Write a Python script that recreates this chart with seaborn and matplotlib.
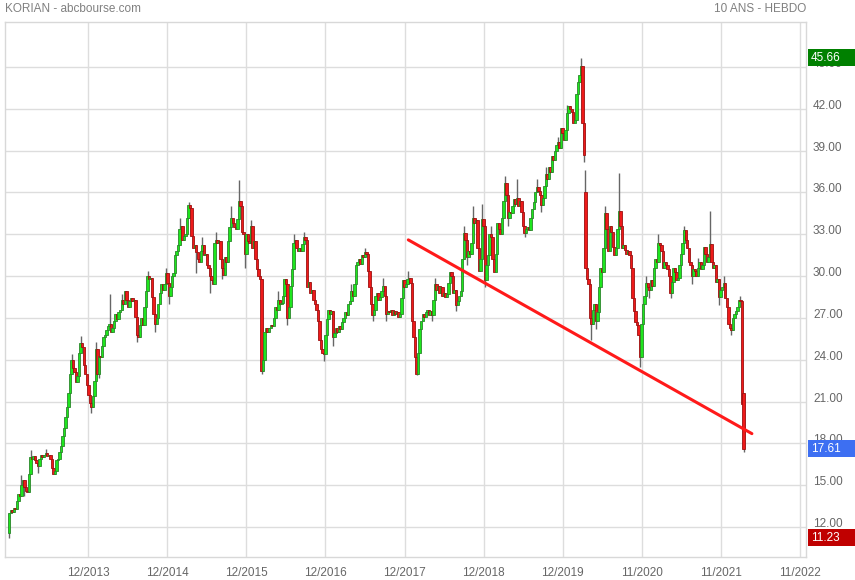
import matplotlib
matplotlib.use("Agg")
import matplotlib.pyplot as plt
import matplotlib.transforms as mtransforms
from matplotlib.patches import Rectangle
import seaborn as sns

# weekly closes (late 2012 -> early 2022)
closes = [
    13.0, 13.2, 13.1, 13.4, 13.3, 13.9, 14.4, 14.2, 15.0, 15.4,
    14.9, 14.6, 14.5, 15.8, 17.0, 16.9, 17.1, 16.8, 16.6, 16.4,
    16.9, 17.2, 17.0, 17.2, 17.3, 17.1, 17.2, 16.9, 16.2, 15.8,
    16.0, 16.8, 16.9, 17.4, 17.8, 18.5, 19.1, 19.9, 20.6, 21.6,
    23.0, 24.0, 23.4, 23.1, 22.4, 22.8, 24.5, 25.2, 24.9, 23.6,
    23.0, 22.2, 21.5, 20.9, 20.6, 21.4, 22.5, 24.8, 23.0, 24.3,
    24.2, 25.0, 25.6, 25.8, 26.1, 26.4, 26.6, 26.0, 26.3, 26.8,
    27.3, 26.9, 27.4, 27.6, 28.3, 28.0, 28.9, 28.3, 27.8, 28.2,
    28.4, 28.2, 28.3, 27.1, 25.8, 25.6, 26.5, 27.0, 26.5, 27.8,
    28.9, 30.0, 29.8, 29.9, 28.5, 27.3, 26.6, 27.0, 28.0, 28.8,
    29.4, 29.0, 29.4, 30.2, 29.5, 28.6, 29.2, 30.0, 30.2, 31.5,
    31.8, 32.2, 33.4, 33.6, 32.6, 32.9, 33.0, 34.2, 35.1, 34.9,
    32.9, 32.0, 32.2, 31.7, 31.2, 31.0, 31.8, 32.2, 31.5, 31.6,
    30.8, 30.6, 30.0, 29.7, 29.4, 32.4, 32.6, 32.4, 32.5, 31.2,
    30.6, 30.1, 31.4, 31.0, 32.5, 33.5, 34.2, 33.8, 33.5, 33.4,
    34.1, 35.4, 35.0, 33.2, 33.0, 31.6, 33.0, 32.5, 32.4, 33.6,
    32.0, 32.5, 31.2, 30.5, 30.0, 29.8, 23.2, 24.0, 26.0, 26.3,
    26.0, 26.3, 26.5, 26.4, 27.0, 27.8, 27.6, 28.3, 28.0, 28.1,
    28.6, 29.8, 29.4, 27.0, 27.8, 29.3, 30.5, 32.4, 32.6, 32.0,
    31.8, 32.0, 31.8, 32.3, 32.8, 32.6, 29.2, 29.6, 28.8, 29.0,
    28.3, 28.0, 27.6, 26.8, 25.4, 24.8, 24.5, 24.4, 25.8, 26.9,
    27.6, 27.3, 27.5, 25.6, 25.9, 26.3, 26.0, 26.4, 26.2, 26.7,
    27.0, 27.4, 27.2, 28.0, 28.2, 28.9, 28.6, 29.4, 30.8, 31.0,
    31.2, 30.9, 31.5, 31.4, 31.7, 31.6, 30.4, 29.2, 28.0, 27.2,
    27.6, 28.6, 28.8, 28.3, 28.5, 28.9, 29.3, 28.6, 27.3, 27.5,
    27.4, 27.6, 27.2, 27.5, 27.3, 27.4, 27.1, 27.3, 28.4, 29.7,
    29.2, 29.4, 29.8, 29.9, 29.5, 26.8, 25.6, 24.2, 23.0, 24.5,
    26.2, 26.8, 27.3, 27.1, 27.4, 27.6, 27.2, 27.5, 27.2, 28.3,
    29.4, 29.0, 29.3, 28.8, 29.2, 28.6, 28.8, 28.5, 28.7, 29.5,
    30.3, 30.0, 28.8, 29.0, 27.9, 28.2, 28.6, 28.9, 31.2, 33.1,
    32.6, 31.4, 31.8, 31.6, 32.4, 34.2, 33.8, 34.0, 32.0, 30.4,
    31.2, 34.1, 33.6, 29.7, 30.8, 31.5, 33.0, 32.8, 31.2, 30.3,
    31.6, 33.8, 33.4, 33.0, 34.2, 35.4, 36.7, 35.8, 34.2, 34.6,
    34.5, 35.0, 35.5, 35.2, 35.6, 35.0, 35.4, 34.6, 33.6, 33.1,
    33.4, 33.5, 33.3, 34.2, 34.8, 35.3, 36.0, 36.4, 36.1, 35.8,
    35.1, 35.6, 36.5, 37.3, 37.0, 37.8, 37.5, 38.6, 38.3, 39.0,
    39.4, 39.6, 39.2, 40.6, 40.3, 39.8, 40.5, 41.7, 42.2, 42.0,
    41.8, 41.0, 41.2, 43.1, 43.9, 44.4, 45.1, 41.0, 38.7, 30.6,
    29.8, 29.4, 27.0, 26.6, 27.6, 28.0, 26.8, 27.4, 29.2, 30.6,
    30.3, 32.0, 34.5, 33.4, 31.8, 33.6, 33.2, 32.1, 31.5, 32.0,
    33.4, 34.7, 33.6, 32.0, 32.2, 31.9, 31.6, 31.8, 31.5, 30.6,
    28.4, 27.5, 26.7, 26.5, 25.8, 24.2, 26.6, 28.0, 28.6, 29.5,
    29.2, 29.0, 29.7, 29.3, 30.6, 31.2, 31.0, 32.4, 32.2, 31.8,
    30.6, 31.0, 30.8, 30.5, 30.0, 28.8, 29.6, 30.6, 30.3, 29.7,
    29.9, 30.8, 31.6, 32.4, 33.3, 32.6, 32.0, 31.0, 30.8, 30.0,
    30.5, 30.4, 30.0, 30.6, 31.0, 30.5, 30.8, 32.1, 31.6, 31.0,
    31.4, 32.3, 31.0, 30.6, 30.8, 29.6, 29.8, 28.5, 29.0, 29.2,
    29.5, 28.4, 27.8, 26.6, 26.3, 26.1, 27.0, 27.3, 27.5, 27.8,
    28.3, 28.2, 20.8, 17.61,
]
first_open = 11.6
# weeks that opened away from the previous close
open_gaps = {379: 36.0, 483: 21.6}
# wicks that stand out from the bodies
wick_high = {8: 15.7, 14: 17.5, 24: 17.6, 41: 24.4, 47: 25.7, 57: 25.3, 66: 28.7,
             74: 28.7, 91: 30.4, 103: 30.6, 112: 34.2, 118: 35.3, 127: 32.8, 136: 33.2,
             146: 35.0, 151: 36.9, 159: 34.0, 177: 28.9, 187: 33.0, 194: 33.2,
             225: 29.4, 234: 32.0, 246: 29.9, 262: 30.4, 280: 29.9, 299: 33.6,
             305: 35.0, 311: 35.2, 317: 33.6, 326: 37.2, 334: 37.0, 347: 37.0, 353: 37.8,
             361: 40.0, 367: 42.3, 376: 45.66, 379: 37.6, 392: 35.0, 401: 37.4,
             419: 30.0, 427: 33.0, 444: 33.6, 453: 31.3, 461: 34.7, 470: 30.0, 481: 28.6}
wick_low = {0: 11.23, 10: 14.2, 19: 15.9, 33: 17.0, 54: 20.2, 59: 22.7, 84: 25.3,
            96: 26.0, 105: 28.0, 123: 30.2, 132: 28.8, 140: 29.8, 155: 30.6, 166: 23.0,
            183: 26.5, 207: 23.9, 213: 25.0, 239: 26.8, 248: 26.8, 268: 22.9, 278: 26.8,
            294: 27.5, 301: 30.8, 313: 29.2, 328: 33.6, 339: 32.8, 350: 34.6, 378: 38.2,
            383: 25.4, 386: 26.2, 415: 23.5, 421: 28.4, 435: 28.4, 449: 29.4, 467: 27.9,
            475: 25.8, 483: 17.4}

# support line drawn on the chart (week index, price)
trend_week = [262.5, 488.5]
trend_price = [32.6, 18.7]

x_tick_labels = ["12/2013", "12/2014", "12/2015", "12/2016", "12/2017",
                 "12/2018", "12/2019", "11/2020", "11/2021", "11/2022"]
y_ticks = [12, 15, 18, 21, 24, 27, 30, 33, 36, 39, 42, 45]
price_high = 45.66
price_last = 17.61
price_low = 11.23

sns.set_style("white")
plt.rcParams["font.family"] = ["Liberation Sans", "DejaVu Sans"]

fig = plt.figure(figsize=(8.55, 5.8), dpi=100)
ax = fig.add_axes([5 / 855, 23 / 580, 801 / 855, 535 / 580])

opens = [first_open] + closes[:-1]
for i, o in open_gaps.items():
    opens[i] = o

# wicks
for i, (o, c) in enumerate(zip(opens, closes)):
    hi = max(o, c, wick_high.get(i, 0))
    lo = min(o, c, wick_low.get(i, 999))
    if hi > max(o, c) or lo < min(o, c):
        ax.vlines(i, lo, hi, color="#666666", lw=1, zorder=2)

# bodies
for i, (o, c) in enumerate(zip(opens, closes)):
    up = c >= o
    face = "#1ee61e" if up else "#ee1a1a"
    edge = "#2a862a" if up else "#9c1010"
    h = max(abs(c - o), 0.1)
    ax.bar(i, h, bottom=min(o, c), width=1.6, color=face, edgecolor=edge,
           linewidth=0.6, zorder=3)

sns.lineplot(x=trend_week, y=trend_price, color="#ff1a1a", lw=2.2, ax=ax, zorder=4)

ax.set_xlim(-2.8, 524.1)
ax.set_ylim(9.85, 48.23)
ax.set_xticks([52 * (k + 1) for k in range(len(x_tick_labels))])
ax.set_xticklabels(x_tick_labels)
ax.set_yticks(y_ticks)
ax.set_yticklabels([f"{v:.2f}" for v in y_ticks])
ax.yaxis.tick_right()
ax.tick_params(axis="both", length=0, labelsize=8.5, colors="#666666")
ax.tick_params(axis="x", pad=7)
ax.tick_params(axis="y", pad=5)
shift = mtransforms.ScaledTranslation(0, 0.045, fig.dpi_scale_trans)
for lab in ax.get_yticklabels():
    lab.set_transform(lab.get_transform() + shift)
ax.grid(True, color="#dddddd", lw=1)
ax.set_axisbelow(True)
for s in ax.spines.values():
    s.set_color("#d8d8d8")
    s.set_linewidth(1)

# price boxes on the right, drawn over the tick labels as in the original
mix = mtransforms.blended_transform_factory(fig.transFigure, ax.transData)
box_h = 17 / 13.94
for val, col in [(price_high, "#008000"), (price_last, "#3d6ff2"), (price_low, "#c00000")]:
    ax.add_patch(Rectangle((808 / 855, val - box_h / 2), 47 / 855, box_h, transform=mix,
                           facecolor=col, edgecolor="none", clip_on=False, zorder=5))
    ax.text(811 / 855, val, f"{val:.2f}", transform=mix, color="white", fontsize=8.5,
            va="center", ha="left", zorder=6)

fig.text(5 / 855, 1 - 9 / 580, "KORIAN - abcbourse.com", color="#808080",
         fontsize=8.5, ha="left", va="center")
fig.text(806 / 855, 1 - 9 / 580, "10 ANS - HEBDO", color="#808080",
         fontsize=8.5, ha="right", va="center")

fig.savefig("out.png", dpi=100)
